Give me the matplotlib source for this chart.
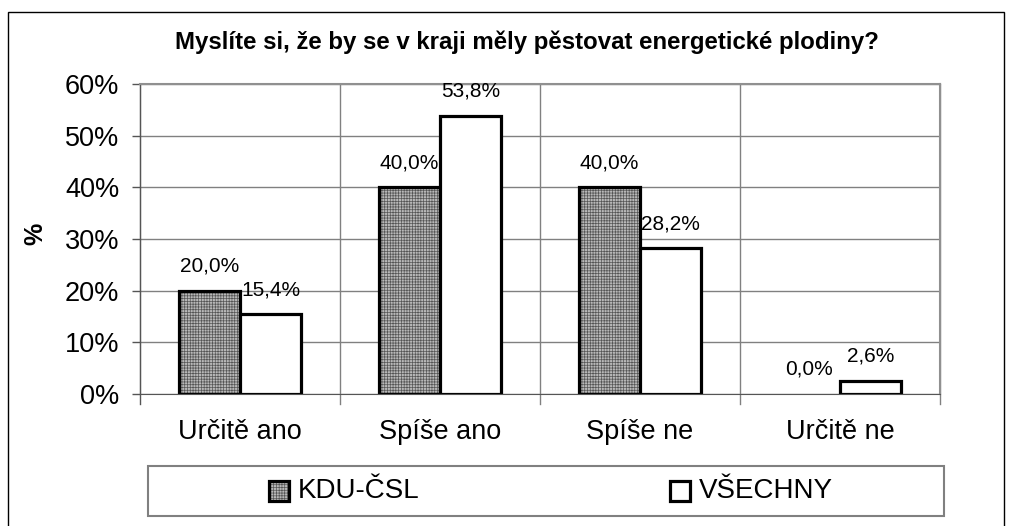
import matplotlib
matplotlib.use("Agg")
from matplotlib import pyplot as plt
from matplotlib.patches import Rectangle
import numpy

plt.rcParams["font.family"] = ["Liberation Sans", "DejaVu Sans"]
plt.rcParams["hatch.linewidth"] = 0.5

title_txt = "Myslíte si, že by se v kraji měly pěstovat energetické plodiny?"
categories = ["Určitě ano", "Spíše ano", "Spíše ne", "Určitě ne"]
kdu = [20.0, 40.0, 40.0, 0.0]
vsechny = [15.4, 53.8, 28.2, 2.6]
series_names = ["KDU-ČSL", "VŠECHNY"]
y_ticks = [0, 10, 20, 30, 40, 50, 60]

W, H = 1012, 526
fig = plt.figure(figsize=(W / 100, H / 100), dpi=100)

# outer chart frame
fig.patches.append(Rectangle((8 / W, -0.05), (1004 - 8) / W, 1.05 - 12 / H,
                             transform=fig.transFigure, fill=False,
                             edgecolor="black", linewidth=1.0))

ax = fig.add_axes([140 / W, (H - 394) / H, 800 / W, 310 / H])

x = numpy.arange(len(categories))
w = 0.305
grid_c = "#808080"
pat_face = "#b8b8b8"
pat_hatch = "#555555"

# KDU bars: pattern then outline (zero-height bars get no outline)
kdu_lw = [2.3 if v > 0 else 0 for v in kdu]
ax.bar(x - w / 2, kdu, w, facecolor=pat_face, edgecolor=pat_hatch,
       hatch="++++++", linewidth=0, zorder=3)
ax.bar(x - w / 2, kdu, w, fill=False, edgecolor="black", linewidth=kdu_lw, zorder=4)
ax.bar(x + w / 2, vsechny, w, facecolor="white", edgecolor="black",
       linewidth=[2.3 if v > 0 else 0 for v in vsechny], zorder=4)

for xi, v in zip(x, kdu):
    ax.text(xi - w / 2, v + 3.7, f"{v:.1f}%".replace(".", ","), ha="center",
            va="baseline", fontsize=15, zorder=5)
for xi, v in zip(x, vsechny):
    ax.text(xi + w / 2, v + 3.7, f"{v:.1f}%".replace(".", ","), ha="center",
            va="baseline", fontsize=15, zorder=5)

ax.set_xlim(-0.5, len(categories) - 0.5)
ax.set_ylim(0, 60)
ax.set_yticks(y_ticks)
ax.set_yticklabels([f"{t}%" for t in y_ticks], fontsize=19.5)
ax.set_xticks(x)
ax.set_xticklabels(categories, fontsize=19.5)
ax.tick_params(axis="x", length=0, pad=18)
ax.tick_params(axis="y", length=6, width=1, color="#555555", pad=9)

# category separators with small ticks below axis
for b in numpy.arange(-0.5, len(categories), 1.0):
    ax.plot([b, b], [-2.0, 60], color="#555555" if b == -0.5 else grid_c,
            linewidth=1.0, clip_on=False, zorder=1)
ax.grid(axis="y", color=grid_c, linewidth=1.0, zorder=0)
ax.set_axisbelow(True)
for s in ["top", "right"]:
    ax.spines[s].set_color("#909090")
    ax.spines[s].set_linewidth(1.5)
ax.spines["left"].set_color("#555555")
ax.spines["bottom"].set_color("#555555")
ax.spines["bottom"].set_zorder(6)

fig.text(35 / W, 1 - 234 / H, "%", rotation=90, ha="center", va="center",
         fontsize=18, fontweight="bold")
fig.text(175 / W, 1 - 42 / H, title_txt, ha="left", va="center",
         fontsize=17.3, fontweight="bold")

# legend box
fig.patches.append(Rectangle((148 / W, (H - 516) / H), (944 - 148) / W, 50 / H,
                             transform=fig.transFigure, fill=False,
                             edgecolor=grid_c, linewidth=1.5))
sq = 20
for (px, name, kind) in [(269, series_names[0], "pat"), (670, series_names[1], "white")]:
    if kind == "pat":
        fig.patches.append(Rectangle((px / W, (H - 501) / H), sq / W, sq / H,
                                     transform=fig.transFigure, facecolor=pat_face,
                                     edgecolor=pat_hatch, hatch="++++++", linewidth=0))
    fig.patches.append(Rectangle((px / W, (H - 501) / H), sq / W, sq / H,
                                 transform=fig.transFigure, fill=False,
                                 edgecolor="black", linewidth=2.3))
    fig.text((px + sq + 9) / W, (H - 491) / H, name, ha="left", va="center",
             fontsize=20)

fig.savefig("out.png", dpi=100)
